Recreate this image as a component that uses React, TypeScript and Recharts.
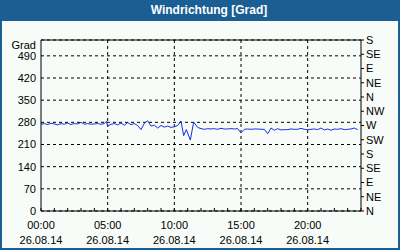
import React from "react";
import { LineChart, Line, XAxis, YAxis, CartesianGrid, ReferenceLine } from "recharts";

const hours = [
  0, 0.25, 0.5, 0.75, 1, 1.25, 1.5, 1.75, 2, 2.25, 2.5, 2.75, 3, 3.25, 3.5, 3.75,
  4, 4.25, 4.5, 4.75, 4.9, 5, 5.25, 5.5, 5.75, 6, 6.25, 6.5, 6.75, 7, 7.25, 7.5,
  7.75, 8, 8.25, 8.5, 8.75, 9, 9.25, 9.5, 9.75, 10, 10.25, 10.5, 10.7, 10.9, 11.2,
  11.45, 11.75, 12, 12.25, 12.5, 12.75, 13, 13.25, 13.5, 13.75, 14, 14.25, 14.5,
  14.75, 15, 15.25, 15.5, 15.75, 16, 16.25, 16.5, 16.75, 17, 17.25, 17.5, 17.75,
  18, 18.25, 18.5, 18.75, 19, 19.25, 19.5, 19.75, 20, 20.25, 20.5, 20.75, 21,
  21.25, 21.5, 21.75, 22, 22.25, 22.5, 22.75, 23, 23.25, 23.5, 23.75,
];
const direction = [
  274, 276, 273, 277, 275, 272, 276, 274, 278, 273, 276, 275, 280, 274, 276, 274,
  275, 276, 274, 276, 283, 268, 274, 276, 272, 278, 271, 279, 273, 276, 270, 257,
  277, 285, 268, 271, 262, 270, 265, 268, 264, 266, 270, 284, 238, 257, 224,
  281, 264, 260, 258, 260, 259, 260, 258, 261, 259, 259, 260, 259,
  260, 247, 258, 259, 258, 259, 259, 258, 258, 244, 262, 255, 260,
  256, 257, 257, 259, 258, 258, 261, 258, 257, 258, 259, 257, 262,
  256, 259, 255, 259, 258, 260, 257, 258, 259, 262, 257,
];

const minorHours = [0, 1, 2, 3, 4, 5, 6, 7, 8, 9, 10, 11, 12, 13, 14, 15, 16, 17, 18, 19, 20, 21, 22, 23, 24];
const majorHours = [5, 10, 15, 20];
const xTickHours = [0, 5, 10, 15, 20];
const xTickTimes = ["00:00", "05:00", "10:00", "15:00", "20:00"];
const xTickDate = "26.08.14";
const leftTicks = [0, 70, 140, 210, 280, 350, 420, 490];
const leftUnit = "Grad";
const rightTicks = [0, 45, 90, 135, 180, 225, 270, 315, 360, 405, 450, 495, 540];
const compass = ["N", "NE", "E", "SE", "S", "SW", "W", "NW", "N", "NE", "E", "SE", "S"];
const title = "Windrichtung [Grad]";

const data = hours.map((h, i) => ({ h, v: direction[i] }));

const FONT = '"Liberation Sans", Arial, sans-serif';

const XTick = (props: any) => {
  const { x, y, payload } = props;
  const idx = xTickHours.indexOf(payload.value);
  return (
    <g>
      <line x1={x} x2={x} y1={y} y2={y - 3} stroke="#000" />
      {idx >= 0 && (
        <>
          <text x={x} y={y + 18} textAnchor="middle" fontFamily={FONT} fontSize={11} fill="#000">
            {xTickTimes[idx]}
          </text>
          <text x={x} y={y + 33} textAnchor="middle" fontFamily={FONT} fontSize={11} fill="#000">
            {xTickDate}
          </text>
        </>
      )}
    </g>
  );
};

const LeftTick = (props: any) => {
  const { x, y, payload } = props;
  return (
    <g>
      <text x={x} y={y} dy="0.355em" textAnchor="end" fontFamily={FONT} fontSize={11} fill="#000">
        {payload.value}
      </text>
      {payload.value === leftTicks[leftTicks.length - 1] && (
        <text x={x} y={y - 11} dy="0.355em" textAnchor="end" fontFamily={FONT} fontSize={11} fill="#000">
          {leftUnit}
        </text>
      )}
    </g>
  );
};

export default function App() {
  return (
    <div style={{ position: "absolute", left: 0, top: 0, width: 400, height: 250, background: "#1b5e93" }}>
      <div style={{ position: "absolute", left: 2, top: 21, width: 396, height: 227, background: "#f8fcf8" }} />
      <div
        style={{
          position: "absolute",
          left: 18,
          top: 0,
          width: 382,
          height: 21,
          lineHeight: "21px",
          textAlign: "center",
          color: "#fff",
          fontFamily: FONT,
          fontWeight: "bold",
          fontSize: 12,
        }}
      >
        {title}
      </div>
      <div style={{ position: "absolute", left: 0, top: 0 }}>
        <LineChart width={400} height={250} data={data} margin={{ top: 40, right: 0, bottom: 0, left: 0 }}>
          <CartesianGrid xAxisId="x" yAxisId="left" vertical={false} stroke="#000" strokeDasharray="3 3" />
          <XAxis
            xAxisId="x"
            dataKey="h"
            type="number"
            domain={[0, 24]}
            ticks={minorHours}
            interval={0}
            height={39}
            tickLine={false}
            tickSize={0}
            tickMargin={0}
            axisLine={{ stroke: "#000" }}
            tick={<XTick />}
          />
          <YAxis
            yAxisId="left"
            orientation="left"
            type="number"
            domain={[0, 540]}
            ticks={leftTicks}
            interval={0}
            width={41}
            tickLine={false}
            tickSize={0}
            tickMargin={5}
            axisLine={{ stroke: "#000" }}
            tick={<LeftTick />}
          />
          <YAxis
            yAxisId="right"
            orientation="right"
            type="number"
            domain={[0, 540]}
            ticks={rightTicks}
            interval={0}
            width={39}
            tickLine={{ stroke: "#000" }}
            tickSize={3}
            tickMargin={2}
            axisLine={{ stroke: "#000" }}
            tick={{ fill: "#000", fontSize: 11, fontFamily: FONT, textAnchor: "start" }}
            tickFormatter={(v: number) => compass[rightTicks.indexOf(v)] ?? ""}
          />
          {majorHours.map((h) => (
            <ReferenceLine key={h} xAxisId="x" yAxisId="left" x={h} stroke="#000" strokeDasharray="3 3" />
          ))}
          <ReferenceLine xAxisId="x" yAxisId="left" y={540} stroke="#000" />
          <Line
            xAxisId="x"
            yAxisId="right"
            dataKey="v"
            stroke="none"
            strokeWidth={0}
            dot={false}
            activeDot={false}
            legendType="none"
            isAnimationActive={false}
          />
          <Line
            xAxisId="x"
            yAxisId="left"
            dataKey="v"
            stroke="#1030e8"
            strokeWidth={1}
            dot={false}
            isAnimationActive={false}
          />
        </LineChart>
      </div>
    </div>
  );
}
